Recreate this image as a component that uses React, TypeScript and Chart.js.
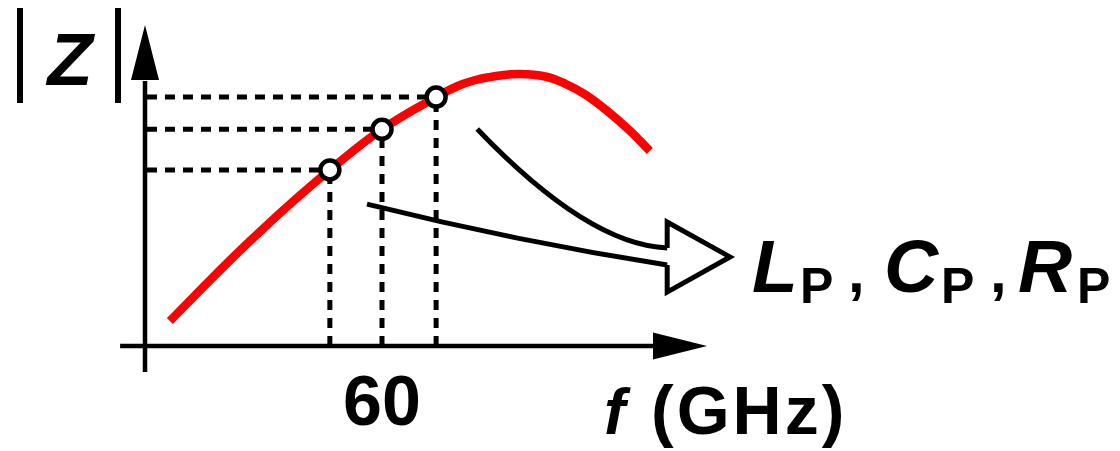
import React, { useEffect, useRef } from "react";
import { Chart, registerables } from "chart.js";

Chart.register(...registerables);

// ---- data ----
const freqGHz = [6.3, 16.5, 26.6, 36.7, 46.8, 60, 73.7, 79.2, 84.8, 89.9, 94.9, 101.3, 106.3, 111.4, 117, 122.8, 127.8];
const zMag = [0.092, 0.244, 0.388, 0.524, 0.65, 0.8, 0.919, 0.96, 0.986, 0.999, 1.004, 0.995, 0.969, 0.929, 0.868, 0.794, 0.72];
const markerFreqGHz = [46.8, 60, 73.7];
const markerZ = [0.65, 0.8, 0.919];
const xTickValues = [60];
const xTickLabels = ["60"];
const xAxisTitleItalic = "f";
const xAxisTitleUnit = "(GHz)";
const yAxisTitle = "Z";
const paramLetters = ["L", "C", "R"];
const paramSub = "P";

const X_MIN = 0;
const X_MAX = 140;
const Y_MIN = 0;
const Y_MAX = 1.2;

const FONT = "'Liberation Sans', Arial, sans-serif";

const curveData = freqGHz.map((f, i) => ({ x: f, y: zMag[i] }));
const markerData = markerFreqGHz.map((f, i) => ({ x: f, y: markerZ[i] }));

const dashStyle = {
  borderColor: "#000",
  borderWidth: 5,
  borderDash: [10, 8],
  pointRadius: 0,
  fill: false,
  clip: false as any,
  order: 3,
};

const dashDatasets = markerFreqGHz.flatMap((f, i) => [
  {
    type: "line" as const,
    data: [
      { x: 0.5, y: markerZ[i] },
      { x: f, y: markerZ[i] },
    ],
    ...dashStyle,
  },
  {
    type: "line" as const,
    data: [
      { x: f, y: 0 },
      { x: f, y: markerZ[i] },
    ],
    ...dashStyle,
  },
]);

const decorPlugin = {
  id: "decor",
  beforeDatasetsDraw(chart: any) {
    const ctx = chart.ctx as CanvasRenderingContext2D;
    const xs = chart.scales.x;
    const ys = chart.scales.y;
    const x0 = xs.getPixelForValue(0);
    const y0 = ys.getPixelForValue(0);
    ctx.save();
    ctx.strokeStyle = "#000";
    ctx.fillStyle = "#000";
    ctx.lineWidth = 4.5;
    ctx.lineCap = "butt";
    // y axis
    const yTip = ys.getPixelForValue(1.185);
    const yBase = ys.getPixelForValue(0.982);
    ctx.beginPath();
    ctx.moveTo(x0, ys.getPixelForValue(-0.096));
    ctx.lineTo(x0, yBase + 1);
    ctx.stroke();
    ctx.beginPath();
    ctx.moveTo(x0, yTip);
    ctx.lineTo(x0 - 14, yBase);
    ctx.lineTo(x0 + 14, yBase);
    ctx.closePath();
    ctx.fill();
    // x axis
    const xTip = xs.getPixelForValue(142.3);
    const xBase = xs.getPixelForValue(128.6);
    ctx.beginPath();
    ctx.moveTo(xs.getPixelForValue(-6.3), y0);
    ctx.lineTo(xBase + 1, y0);
    ctx.stroke();
    ctx.beginPath();
    ctx.moveTo(xTip, y0);
    ctx.lineTo(xBase, y0 - 13.5);
    ctx.lineTo(xBase, y0 + 13.5);
    ctx.closePath();
    ctx.fill();
    ctx.restore();
  },
  afterDatasetsDraw(chart: any) {
    const ctx = chart.ctx as CanvasRenderingContext2D;
    const xs = chart.scales.x;
    const ys = chart.scales.y;
    const P = (x: number, y: number) => [xs.getPixelForValue(x), ys.getPixelForValue(y)];
    const y0 = ys.getPixelForValue(0);
    ctx.save();
    ctx.strokeStyle = "#000";
    ctx.fillStyle = "#000";

    // curved arrows
    ctx.lineWidth = 5;
    ctx.lineJoin = "miter";
    const up0 = P(84.1, 0.801), upC = P(112.2, 0.373), up1 = P(132.2, 0.362);
    const lo0 = P(56.2, 0.524), loC = P(94.2, 0.386), lo1 = P(132.2, 0.299);
    ctx.beginPath();
    ctx.moveTo(up0[0], up0[1]);
    ctx.quadraticCurveTo(upC[0], upC[1], up1[0], up1[1]);
    ctx.stroke();
    ctx.beginPath();
    ctx.moveTo(lo0[0], lo0[1]);
    ctx.quadraticCurveTo(loC[0], loC[1], lo1[0], lo1[1]);
    ctx.stroke();
    const hTop = P(132.2, 0.458), hTip = P(148.1, 0.329), hBot = P(132.2, 0.199);
    ctx.beginPath();
    ctx.moveTo(up1[0], up1[1]);
    ctx.lineTo(hTop[0], hTop[1]);
    ctx.lineTo(hTip[0], hTip[1]);
    ctx.lineTo(hBot[0], hBot[1]);
    ctx.lineTo(lo1[0], lo1[1]);
    ctx.stroke();

    // |Z| label
    ctx.lineWidth = 6;
    ctx.beginPath();
    ctx.moveTo(20, 8);
    ctx.lineTo(20, 103);
    ctx.moveTo(118, 8);
    ctx.lineTo(118, 103);
    ctx.stroke();
    ctx.textBaseline = "alphabetic";
    ctx.textAlign = "center";
    ctx.font = `italic bold 74px ${FONT}`;
    ctx.fillText(yAxisTitle, 70, 85);

    // x tick label
    ctx.font = `bold 70px ${FONT}`;
    xTickValues.forEach((v, i) => {
      ctx.fillText(xTickLabels[i], xs.getPixelForValue(v), y0 + 79);
    });

    // x axis title
    ctx.textAlign = "left";
    ctx.font = `italic bold 64px ${FONT}`;
    ctx.fillText(xAxisTitleItalic, 604, 434);
    ctx.font = `bold 68px ${FONT}`;
    (ctx as any).letterSpacing = "3px";
    ctx.fillText(xAxisTitleUnit, 651, 434);
    (ctx as any).letterSpacing = "0px";

    // L_P, C_P, R_P
    const letterX = [752, 884, 1018];
    const subX = [800, 941, 1077];
    const commaX = [848, 990];
    paramLetters.forEach((L, i) => {
      ctx.font = `italic bold 75px ${FONT}`;
      ctx.fillText(L, letterX[i], 292);
      ctx.font = `bold 50px ${FONT}`;
      ctx.fillText(paramSub, subX[i], 303);
      if (i < commaX.length) {
        ctx.font = `bold 60px ${FONT}`;
        ctx.fillText(",", commaX[i], 292);
      }
    });
    ctx.restore();
  },
};

export default function App() {
  const canvasRef = useRef<HTMLCanvasElement | null>(null);

  useEffect(() => {
    document.body.style.margin = "0";
    const canvas = canvasRef.current;
    if (!canvas) return;
    const chart = new Chart(canvas, {
      type: "line",
      data: {
        datasets: [
          {
            type: "line",
            data: markerData,
            showLine: false,
            pointRadius: 9.5,
            pointBorderWidth: 4.5,
            pointBackgroundColor: "#fff",
            pointBorderColor: "#000",
            clip: false as any,
            order: 0,
          },
          {
            type: "line",
            data: curveData,
            borderColor: "#ff0000",
            borderWidth: 8.5,
            tension: 0.4,
            pointRadius: 0,
            fill: false,
            clip: false as any,
            borderCapStyle: "butt",
            order: 1,
          },
          ...dashDatasets,
        ] as any,
      },
      options: {
        responsive: false,
        devicePixelRatio: 1,
        animation: false,
        layout: {
          padding: { left: 145, right: 422, top: 21, bottom: 105 },
        },
        plugins: {
          legend: { display: false },
          tooltip: { enabled: false },
          title: { display: false },
        },
        scales: {
          x: { type: "linear", min: X_MIN, max: X_MAX, display: false },
          y: { type: "linear", min: Y_MIN, max: Y_MAX, display: false },
        },
        events: [],
      },
      plugins: [decorPlugin],
    });
    return () => chart.destroy();
  }, []);

  return (
    <div style={{ position: "fixed", left: 0, top: 0, width: 1120, height: 451, background: "#fff" }}>
      <canvas ref={canvasRef} width={1120} height={451} style={{ width: 1120, height: 451 }} />
    </div>
  );
}
